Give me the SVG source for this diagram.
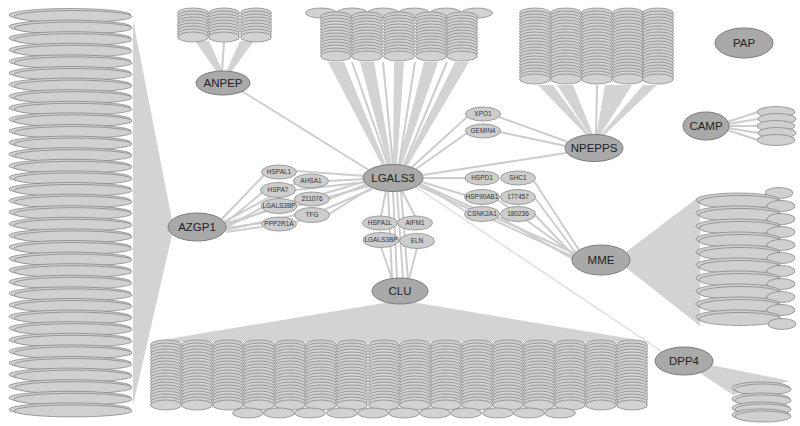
<svg xmlns="http://www.w3.org/2000/svg" width="800" height="426" viewBox="0 0 800 426">
<style>
.ring{fill:#d2d2d2;stroke:#6e6e6e;stroke-width:0.6}
.row{fill:#d0d0d0;stroke:#6e6e6e;stroke-width:0.6}
.fan{fill:#d3d3d3;stroke:none}
.ed{stroke:#cdcdcd;stroke-width:2;fill:none}
.ed2{stroke:#dedede;stroke-width:1.5;fill:none}
.big{fill:#a9a9a9;stroke:#7a7a7a;stroke-width:1}
.sm{fill:#cdcdcd;stroke:#8c8c8c;stroke-width:0.8}
.bt{font-family:"Liberation Sans",Arial,sans-serif;font-size:11.5px;fill:#222;text-anchor:middle}
.st{font-family:"Liberation Sans",Arial,sans-serif;font-size:6.5px;fill:#333;text-anchor:middle}
</style>
<defs>
<ellipse id="r" cx="0" cy="0" rx="15.5" ry="5" class="ring"/>
<g id="s4"><use href="#r" y="0"/><use href="#r" y="3"/><use href="#r" y="6"/><use href="#r" y="9"/></g>
<g id="wr"><ellipse class="row" cx="0" cy="0" rx="61" ry="6.5"/><ellipse class="row" cx="3" cy="1.5" rx="59" ry="6"/></g>
<g id="mr"><ellipse class="row" cx="0" cy="0" rx="42" ry="7"/><ellipse class="row" cx="2" cy="2" rx="41" ry="6.5"/></g>
<ellipse id="ms" cx="0" cy="0" rx="14" ry="5.5" class="row"/>
<g id="dr"><ellipse class="row" cx="0" cy="0" rx="29" ry="6"/><ellipse class="row" cx="2" cy="1.5" rx="28" ry="5.5"/></g>
</defs>

<g id="fans">
<polygon class="fan" points="195,41 209,41 223,72 217,72"/>
<polygon class="fan" points="240,41 254,41 231,72 226,72"/>
<polygon class="fan" points="328,62 344,62 386,165 382,165"/>
<polygon class="fan" points="360,62 374,62 392,165 388,165"/>
<polygon class="fan" points="394,62 404,62 397,165 393,165"/>
<polygon class="fan" points="424,62 438,62 402,165 398,165"/>
<polygon class="fan" points="455,62 469,62 408,165 404,165"/>
<polygon class="fan" points="538,85 553,85 591,137 588,137"/>
<polygon class="fan" points="557,85 573,85 594,137 591,137"/>
<polygon class="fan" points="605,85 632,85 599,137 596,137"/>
<polygon class="fan" points="643,85 657,85 602,137 599,137"/>
<polygon class="fan" points="133,20 172,220 172,235 133,405"/>
<polygon class="fan" points="390,302 150,342 650,342 412,302"/>
<polygon class="fan" points="626,252 700,196 700,326 624,266"/>
<polygon class="fan" points="706,364 790,381 733,395 700,373"/>
</g>

<g id="connectors">
<line class="ed" x1="224" y1="41" x2="222" y2="72"/>
<line class="ed" x1="352" y1="62" x2="388" y2="165"/>
<line class="ed" x1="383" y1="62" x2="393" y2="165"/>
<line class="ed" x1="415" y1="62" x2="399" y2="165"/>
<line class="ed" x1="447" y1="62" x2="404" y2="165"/>
<line class="ed" x1="597" y1="85" x2="596" y2="137"/>
<line class="ed" x1="240" y1="90" x2="372" y2="172"/>
<line class="ed" x1="220" y1="221" x2="264" y2="175"/>
<line class="ed" x1="222" y1="223" x2="296" y2="183"/>
<line class="ed" x1="223" y1="225" x2="263" y2="192"/>
<line class="ed" x1="224" y1="226" x2="296" y2="200"/>
<line class="ed" x1="225" y1="228" x2="263" y2="207"/>
<line class="ed" x1="225" y1="230" x2="296" y2="215"/>
<line class="ed" x1="226" y1="228" x2="262" y2="223"/>
<line class="ed" x1="226" y1="232" x2="262" y2="227"/>
<line class="ed" x1="224" y1="224" x2="366" y2="181"/>
<line class="ed" x1="366" y1="176" x2="296" y2="171"/>
<line class="ed" x1="366" y1="179" x2="328" y2="181"/>
<line class="ed" x1="366" y1="182" x2="295" y2="190"/>
<line class="ed" x1="367" y1="184" x2="329" y2="199"/>
<line class="ed" x1="369" y1="186" x2="296" y2="206"/>
<line class="ed" x1="371" y1="188" x2="329" y2="214"/>
<line class="ed" x1="372" y1="189" x2="296" y2="222"/>
<line class="ed" x1="386" y1="191" x2="381" y2="216"/>
<line class="ed" x1="402" y1="191" x2="415" y2="216"/>
<line class="ed" x1="388" y1="191" x2="392" y2="279"/>
<line class="ed" x1="393" y1="191" x2="397" y2="279"/>
<line class="ed" x1="397" y1="191" x2="403" y2="279"/>
<line class="ed" x1="401" y1="191" x2="408" y2="279"/>
<line class="ed" x1="381" y1="247" x2="392" y2="279"/>
<line class="ed" x1="417" y1="248" x2="409" y2="279"/>
<line class="ed" x1="412" y1="167" x2="467" y2="117"/>
<line class="ed" x1="416" y1="169" x2="467" y2="133"/>
<line class="ed" x1="499" y1="117" x2="568" y2="142"/>
<line class="ed" x1="500" y1="132" x2="566" y2="146"/>
<line class="ed" x1="423" y1="175" x2="566" y2="153"/>
<line class="ed" x1="423" y1="178" x2="465" y2="178"/>
<line class="ed" x1="422" y1="182" x2="465" y2="195"/>
<line class="ed" x1="421" y1="184" x2="465" y2="211"/>
<line class="ed" x1="420" y1="184" x2="574" y2="253"/>
<line class="ed" x1="419" y1="186" x2="574" y2="257"/>
<line class="ed" x1="534" y1="181" x2="579" y2="250"/>
<line class="ed" x1="535" y1="198" x2="576" y2="253"/>
<line class="ed" x1="535" y1="215" x2="574" y2="256"/>
<line class="ed" x1="499" y1="217" x2="573" y2="259"/>
<line class="ed" x1="498" y1="200" x2="575" y2="255"/>
<line class="ed2" x1="416" y1="187" x2="664" y2="353"/>
<line class="ed" x1="727" y1="122" x2="758" y2="112"/>
<line class="ed" x1="728" y1="124" x2="758" y2="119"/>
<line class="ed" x1="729" y1="126" x2="758" y2="126"/>
<line class="ed" x1="728" y1="128" x2="758" y2="133"/>
<line class="ed" x1="727" y1="130" x2="758" y2="140"/>
</g>

<g id="azgp1-cluster">
<use href="#wr" x="70" y="15"/><use href="#wr" x="70" y="26.6"/><use href="#wr" x="70" y="38.2"/><use href="#wr" x="70" y="49.8"/><use href="#wr" x="70" y="61.4"/><use href="#wr" x="70" y="73"/><use href="#wr" x="70" y="84.6"/><use href="#wr" x="70" y="96.2"/><use href="#wr" x="70" y="107.8"/><use href="#wr" x="70" y="119.4"/><use href="#wr" x="70" y="131"/><use href="#wr" x="70" y="142.6"/><use href="#wr" x="70" y="154.2"/><use href="#wr" x="70" y="165.8"/><use href="#wr" x="70" y="177.4"/><use href="#wr" x="70" y="189"/><use href="#wr" x="70" y="200.6"/><use href="#wr" x="70" y="212.2"/><use href="#wr" x="70" y="223.8"/><use href="#wr" x="70" y="235.4"/><use href="#wr" x="70" y="247"/><use href="#wr" x="70" y="258.6"/><use href="#wr" x="70" y="270.2"/><use href="#wr" x="70" y="281.8"/><use href="#wr" x="70" y="293.4"/><use href="#wr" x="70" y="305"/><use href="#wr" x="70" y="316.6"/><use href="#wr" x="70" y="328.2"/><use href="#wr" x="70" y="339.8"/><use href="#wr" x="70" y="351.4"/><use href="#wr" x="70" y="363"/><use href="#wr" x="70" y="374.6"/><use href="#wr" x="70" y="386.2"/><use href="#wr" x="70" y="397.8"/><use href="#wr" x="70" y="409.4"/>
</g>

<g id="anpep-cluster">
<use href="#s4" x="193" y="13"/><use href="#s4" x="193" y="25"/><use href="#r" x="193" y="37"/>
<use href="#s4" x="224" y="13"/><use href="#s4" x="224" y="25"/><use href="#r" x="224" y="37"/>
<use href="#s4" x="256" y="13"/><use href="#s4" x="256" y="25"/><use href="#r" x="256" y="37"/>
</g>

<g id="lgals3-cluster">
<use href="#r" x="321" y="13"/><use href="#r" x="352" y="13"/><use href="#r" x="383" y="13"/><use href="#r" x="414" y="13"/><use href="#r" x="446" y="13"/><use href="#r" x="477" y="13"/>
<use href="#s4" x="336" y="17"/><use href="#s4" x="336" y="29"/><use href="#s4" x="336" y="41"/><use href="#r" x="336" y="53"/><use href="#r" x="336" y="56"/>
<use href="#s4" x="367" y="17"/><use href="#s4" x="367" y="29"/><use href="#s4" x="367" y="41"/><use href="#r" x="367" y="53"/><use href="#r" x="367" y="56"/>
<use href="#s4" x="399" y="17"/><use href="#s4" x="399" y="29"/><use href="#s4" x="399" y="41"/><use href="#r" x="399" y="53"/><use href="#r" x="399" y="56"/>
<use href="#s4" x="431" y="17"/><use href="#s4" x="431" y="29"/><use href="#s4" x="431" y="41"/><use href="#r" x="431" y="53"/><use href="#r" x="431" y="56"/>
<use href="#s4" x="462" y="17"/><use href="#s4" x="462" y="29"/><use href="#s4" x="462" y="41"/><use href="#r" x="462" y="53"/><use href="#r" x="462" y="56"/>
</g>

<g id="npepps-cluster">
<use href="#s4" x="535" y="13"/><use href="#s4" x="535" y="25"/><use href="#s4" x="535" y="37"/><use href="#s4" x="535" y="49"/><use href="#s4" x="535" y="61"/><use href="#r" x="535" y="73"/><use href="#r" x="535" y="76"/><use href="#r" x="535" y="79"/>
<use href="#s4" x="566" y="13"/><use href="#s4" x="566" y="25"/><use href="#s4" x="566" y="37"/><use href="#s4" x="566" y="49"/><use href="#s4" x="566" y="61"/><use href="#r" x="566" y="73"/><use href="#r" x="566" y="76"/><use href="#r" x="566" y="79"/>
<use href="#s4" x="597" y="13"/><use href="#s4" x="597" y="25"/><use href="#s4" x="597" y="37"/><use href="#s4" x="597" y="49"/><use href="#s4" x="597" y="61"/><use href="#r" x="597" y="73"/><use href="#r" x="597" y="76"/><use href="#r" x="597" y="79"/>
<use href="#s4" x="628" y="13"/><use href="#s4" x="628" y="25"/><use href="#s4" x="628" y="37"/><use href="#s4" x="628" y="49"/><use href="#s4" x="628" y="61"/><use href="#r" x="628" y="73"/><use href="#r" x="628" y="76"/><use href="#r" x="628" y="79"/>
<use href="#s4" x="658" y="13"/><use href="#s4" x="658" y="25"/><use href="#s4" x="658" y="37"/><use href="#s4" x="658" y="49"/><use href="#s4" x="658" y="61"/><use href="#r" x="658" y="73"/><use href="#r" x="658" y="76"/><use href="#r" x="658" y="79"/>
</g>

<g id="clu-cluster">
<use href="#s4" x="166" y="345"/><use href="#s4" x="166" y="357"/><use href="#s4" x="166" y="369"/><use href="#s4" x="166" y="381"/><use href="#s4" x="166" y="393"/><use href="#r" x="166" y="405"/>
<use href="#s4" x="197" y="345"/><use href="#s4" x="197" y="357"/><use href="#s4" x="197" y="369"/><use href="#s4" x="197" y="381"/><use href="#s4" x="197" y="393"/><use href="#r" x="197" y="405"/>
<use href="#s4" x="228" y="345"/><use href="#s4" x="228" y="357"/><use href="#s4" x="228" y="369"/><use href="#s4" x="228" y="381"/><use href="#s4" x="228" y="393"/><use href="#r" x="228" y="405"/>
<use href="#s4" x="259" y="345"/><use href="#s4" x="259" y="357"/><use href="#s4" x="259" y="369"/><use href="#s4" x="259" y="381"/><use href="#s4" x="259" y="393"/><use href="#r" x="259" y="405"/>
<use href="#s4" x="290" y="345"/><use href="#s4" x="290" y="357"/><use href="#s4" x="290" y="369"/><use href="#s4" x="290" y="381"/><use href="#s4" x="290" y="393"/><use href="#r" x="290" y="405"/>
<use href="#s4" x="321" y="345"/><use href="#s4" x="321" y="357"/><use href="#s4" x="321" y="369"/><use href="#s4" x="321" y="381"/><use href="#s4" x="321" y="393"/><use href="#r" x="321" y="405"/>
<use href="#s4" x="352" y="345"/><use href="#s4" x="352" y="357"/><use href="#s4" x="352" y="369"/><use href="#s4" x="352" y="381"/><use href="#s4" x="352" y="393"/><use href="#r" x="352" y="405"/>
<use href="#s4" x="384" y="345"/><use href="#s4" x="384" y="357"/><use href="#s4" x="384" y="369"/><use href="#s4" x="384" y="381"/><use href="#s4" x="384" y="393"/><use href="#r" x="384" y="405"/>
<use href="#s4" x="415" y="345"/><use href="#s4" x="415" y="357"/><use href="#s4" x="415" y="369"/><use href="#s4" x="415" y="381"/><use href="#s4" x="415" y="393"/><use href="#r" x="415" y="405"/>
<use href="#s4" x="446" y="345"/><use href="#s4" x="446" y="357"/><use href="#s4" x="446" y="369"/><use href="#s4" x="446" y="381"/><use href="#s4" x="446" y="393"/><use href="#r" x="446" y="405"/>
<use href="#s4" x="477" y="345"/><use href="#s4" x="477" y="357"/><use href="#s4" x="477" y="369"/><use href="#s4" x="477" y="381"/><use href="#s4" x="477" y="393"/><use href="#r" x="477" y="405"/>
<use href="#s4" x="508" y="345"/><use href="#s4" x="508" y="357"/><use href="#s4" x="508" y="369"/><use href="#s4" x="508" y="381"/><use href="#s4" x="508" y="393"/><use href="#r" x="508" y="405"/>
<use href="#s4" x="539" y="345"/><use href="#s4" x="539" y="357"/><use href="#s4" x="539" y="369"/><use href="#s4" x="539" y="381"/><use href="#s4" x="539" y="393"/><use href="#r" x="539" y="405"/>
<use href="#s4" x="570" y="345"/><use href="#s4" x="570" y="357"/><use href="#s4" x="570" y="369"/><use href="#s4" x="570" y="381"/><use href="#s4" x="570" y="393"/><use href="#r" x="570" y="405"/>
<use href="#s4" x="601" y="345"/><use href="#s4" x="601" y="357"/><use href="#s4" x="601" y="369"/><use href="#s4" x="601" y="381"/><use href="#s4" x="601" y="393"/><use href="#r" x="601" y="405"/>
<use href="#s4" x="632" y="345"/><use href="#s4" x="632" y="357"/><use href="#s4" x="632" y="369"/><use href="#s4" x="632" y="381"/><use href="#s4" x="632" y="393"/><use href="#r" x="632" y="405"/>
<use href="#r" x="248" y="413"/><use href="#r" x="279" y="413"/><use href="#r" x="310" y="413"/><use href="#r" x="342" y="413"/><use href="#r" x="373" y="413"/><use href="#r" x="404" y="413"/><use href="#r" x="435" y="413"/><use href="#r" x="466" y="413"/><use href="#r" x="498" y="413"/><use href="#r" x="529" y="413"/><use href="#r" x="560" y="413"/>
</g>

<g id="mme-cluster">
<use href="#ms" x="779" y="193"/>
<use href="#mr" x="738" y="200"/><use href="#ms" x="781" y="206"/>
<use href="#mr" x="738" y="213"/><use href="#ms" x="781" y="219"/>
<use href="#mr" x="738" y="226"/><use href="#ms" x="781" y="232"/>
<use href="#mr" x="738" y="239"/><use href="#ms" x="781" y="245"/>
<use href="#mr" x="738" y="252"/><use href="#ms" x="781" y="258"/>
<use href="#mr" x="738" y="265"/><use href="#ms" x="781" y="271"/>
<use href="#mr" x="738" y="278"/><use href="#ms" x="781" y="284"/>
<use href="#mr" x="738" y="291"/><use href="#ms" x="781" y="297"/>
<use href="#mr" x="738" y="304"/><use href="#ms" x="781" y="310"/>
<use href="#mr" x="738" y="317"/><use href="#ms" x="782" y="324"/>
</g>

<g id="dpp4-cluster">
<use href="#dr" x="761" y="388"/><use href="#dr" x="761" y="399"/><use href="#dr" x="761" y="408"/><use href="#dr" x="761" y="415"/>
</g>

<g id="camp-cluster">
<ellipse class="row" cx="776" cy="112" rx="19" ry="5.5"/>
<ellipse class="row" cx="777" cy="119" rx="19" ry="5.5"/>
<ellipse class="row" cx="776" cy="126" rx="19" ry="5.5"/>
<ellipse class="row" cx="777" cy="133" rx="19" ry="5.5"/>
<ellipse class="row" cx="776" cy="140" rx="19" ry="5.5"/>
</g>

<g id="small-nodes">
<g id="n-hspal1"><ellipse class="sm" cx="279" cy="172" rx="17.5" ry="7"/><text class="st" x="279" y="174.3">HSPAL1</text></g>
<g id="n-ahsa1"><ellipse class="sm" cx="311" cy="181" rx="17.5" ry="7"/><text class="st" x="311" y="183.3">AHSA1</text></g>
<g id="n-hspa7"><ellipse class="sm" cx="278" cy="190" rx="17.5" ry="7.5"/><text class="st" x="278" y="192.3">HSPA7</text></g>
<g id="n-211076"><ellipse class="sm" cx="312" cy="199" rx="17.5" ry="7"/><text class="st" x="312" y="201.3">211076</text></g>
<g id="n-lgals3bp-a"><ellipse class="sm" cx="279" cy="206" rx="18" ry="7.5"/><text class="st" x="279" y="208.3">LGALS3BP</text></g>
<g id="n-tfg"><ellipse class="sm" cx="312" cy="215" rx="17.5" ry="7.5"/><text class="st" x="312" y="217.3">TFG</text></g>
<g id="n-ppp2r1a"><ellipse class="sm" cx="279" cy="224" rx="17.5" ry="7"/><text class="st" x="279" y="226.3">PPP2R1A</text></g>
<g id="n-hspa1l"><ellipse class="sm" cx="380" cy="223" rx="17.5" ry="7"/><text class="st" x="380" y="225.3">HSPA1L</text></g>
<g id="n-aifm1"><ellipse class="sm" cx="415" cy="223" rx="17.5" ry="7"/><text class="st" x="415" y="225.3">AIFM1</text></g>
<g id="n-lgals3bp-b"><ellipse class="sm" cx="381" cy="240" rx="18" ry="7.5"/><text class="st" x="381" y="242.3">LGALS3BP</text></g>
<g id="n-eln"><ellipse class="sm" cx="417" cy="241" rx="17.5" ry="7.5"/><text class="st" x="417" y="243.3">ELN</text></g>
<g id="n-xpo1"><ellipse class="sm" cx="483" cy="114" rx="17.5" ry="7"/><text class="st" x="483" y="116.3">XPO1</text></g>
<g id="n-gemin4"><ellipse class="sm" cx="483" cy="131" rx="17.5" ry="7"/><text class="st" x="483" y="133.3">GEMIN4</text></g>
<g id="n-hspd1"><ellipse class="sm" cx="482" cy="178" rx="17" ry="7"/><text class="st" x="482" y="180.3">HSPD1</text></g>
<g id="n-shc1"><ellipse class="sm" cx="518" cy="178" rx="17.5" ry="7"/><text class="st" x="518" y="180.3">SHC1</text></g>
<g id="n-hsp90ab1"><ellipse class="sm" cx="482" cy="197" rx="17.5" ry="7.5"/><text class="st" x="482" y="199.3">HSP90AB1</text></g>
<g id="n-177457"><ellipse class="sm" cx="518" cy="197" rx="17.5" ry="7.5"/><text class="st" x="518" y="199.3">177457</text></g>
<g id="n-csnk2a1"><ellipse class="sm" cx="482" cy="214" rx="17.5" ry="7.5"/><text class="st" x="482" y="216.3">CSNK2A1</text></g>
<g id="n-180236"><ellipse class="sm" cx="518" cy="214" rx="17.5" ry="7.5"/><text class="st" x="518" y="216.3">180236</text></g>
</g>

<g id="n-anpep"><ellipse class="big" cx="223" cy="83" rx="27" ry="12"/><text class="bt" x="223" y="87">ANPEP</text></g>
<g id="n-lgals3"><ellipse class="big" cx="393" cy="178" rx="30" ry="13.5"/><text class="bt" x="393" y="182">LGALS3</text></g>
<g id="n-npepps"><ellipse class="big" cx="594" cy="148" rx="29" ry="13.5"/><text class="bt" x="594" y="152">NPEPPS</text></g>
<g id="n-pap"><ellipse class="big" cx="744" cy="43" rx="29" ry="15"/><text class="bt" x="744" y="47">PAP</text></g>
<g id="n-camp"><ellipse class="big" cx="706" cy="126" rx="23" ry="14"/><text class="bt" x="706" y="130">CAMP</text></g>
<g id="n-azgp1"><ellipse class="big" cx="197" cy="227" rx="29" ry="14"/><text class="bt" x="197" y="231">AZGP1</text></g>
<g id="n-clu"><ellipse class="big" cx="400" cy="291" rx="28" ry="13"/><text class="bt" x="400" y="295">CLU</text></g>
<g id="n-mme"><ellipse class="big" cx="601" cy="260" rx="29" ry="15"/><text class="bt" x="601" y="264">MME</text></g>
<g id="n-dpp4"><ellipse class="big" cx="684" cy="361" rx="29" ry="14"/><text class="bt" x="684" y="365">DPP4</text></g>
</svg>
